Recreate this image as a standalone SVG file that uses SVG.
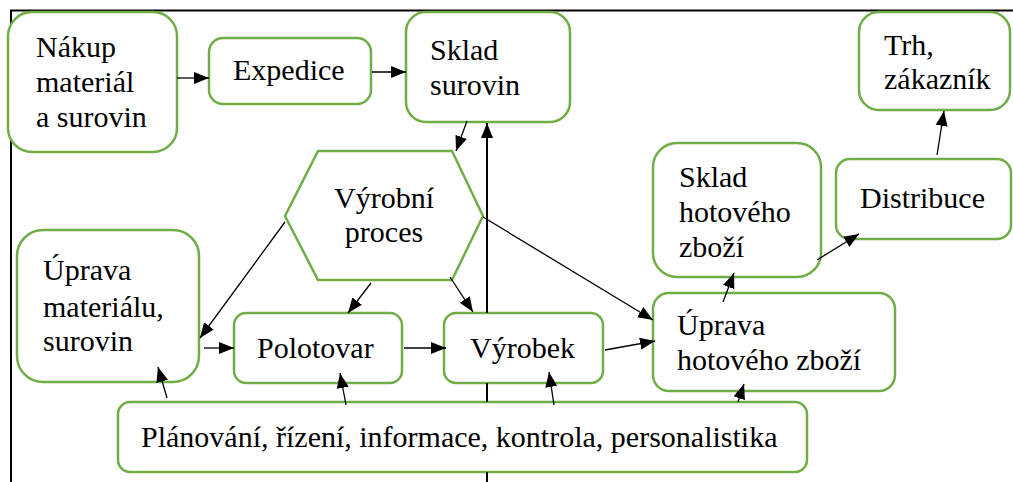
<svg xmlns="http://www.w3.org/2000/svg" width="1013" height="482" viewBox="0 0 1013 482">
  <style>
    .box { fill: #ffffff; stroke: #70ad47; stroke-width: 2.5; }
    .frame { stroke: #000000; stroke-width: 2; fill: none; }
    .conn { stroke: #000000; stroke-width: 1.3; fill: none; marker-end: url(#arrow); }
    .conn-thick { stroke: #000000; stroke-width: 2; fill: none; marker-end: url(#arrow); }
    .lbl { font-family: 'Liberation Serif', 'Times New Roman', Times, serif; font-size: 30px; fill: #000000; }
  </style>
  <defs>
    <marker id="arrow" markerUnits="userSpaceOnUse" markerWidth="16" markerHeight="14" refX="15" refY="6.5" orient="auto">
      <path d="M0,0.5 L15,6.5 L0,12.5 z" fill="#000000"/>
    </marker>
  </defs>
  <rect width="1013" height="482" fill="#ffffff"/>

  <!-- page frame lines -->
  <g id="frame">
    <line class="frame" x1="10" y1="10.5" x2="1013" y2="10.5"/>
    <line class="frame" x1="11" y1="10" x2="11" y2="482"/>
  </g>

  <!-- nodes -->
  <g id="n-nakup">
    <rect class="box" x="8" y="12" width="169" height="140" rx="24"/>
    <text class="lbl" x="36" y="57">Nákup</text>
    <text class="lbl" x="36" y="92">materiál</text>
    <text class="lbl" x="36" y="127">a surovin</text>
  </g>
  <g id="n-expedice">
    <rect class="box" x="209" y="38" width="162" height="66" rx="14"/>
    <text class="lbl" x="233" y="80">Expedice</text>
  </g>
  <g id="n-sklad-surovin">
    <rect class="box" x="406" y="12" width="164" height="110" rx="20"/>
    <text class="lbl" x="430" y="60">Sklad</text>
    <text class="lbl" x="430" y="95">surovin</text>
  </g>
  <g id="n-trh">
    <rect class="box" x="859" y="12" width="151" height="98" rx="20"/>
    <text class="lbl" x="884" y="55">Trh,</text>
    <text class="lbl" x="884" y="89">zákazník</text>
  </g>
  <g id="n-vyrobni-proces">
    <polygon class="box" points="285,216 318,151 452,151 483,216 452,280 318,280"/>
    <text class="lbl" x="384" y="208" text-anchor="middle">Výrobní</text>
    <text class="lbl" x="384" y="242" text-anchor="middle">proces</text>
  </g>
  <g id="n-uprava-materialu">
    <rect class="box" x="17" y="230" width="182" height="152" rx="26"/>
    <text class="lbl" x="43" y="280">Úprava</text>
    <text class="lbl" x="43" y="317">materiálu,</text>
    <text class="lbl" x="43" y="351">surovin</text>
  </g>
  <g id="n-polotovar">
    <rect class="box" x="234" y="313" width="168" height="70" rx="12"/>
    <text class="lbl" x="257" y="358">Polotovar</text>
  </g>
  <g id="n-vyrobek">
    <rect class="box" x="444" y="313" width="159" height="70" rx="12"/>
    <text class="lbl" x="470" y="358">Výrobek</text>
  </g>
  <g id="n-sklad-hotoveho">
    <rect class="box" x="653" y="143" width="168" height="134" rx="24"/>
    <text class="lbl" x="679" y="187">Sklad</text>
    <text class="lbl" x="679" y="222">hotového</text>
    <text class="lbl" x="679" y="257">zboží</text>
  </g>
  <g id="n-distribuce">
    <rect class="box" x="836" y="159" width="175" height="80" rx="14"/>
    <text class="lbl" x="860" y="208">Distribuce</text>
  </g>
  <g id="n-uprava-hotoveho">
    <rect class="box" x="653" y="293" width="242" height="98" rx="16"/>
    <text class="lbl" x="677" y="335">Úprava</text>
    <text class="lbl" x="677" y="370">hotového zboží</text>
  </g>
  <g id="n-planovani">
    <rect class="box" x="118" y="402" width="689" height="70" rx="12"/>
    <text class="lbl" x="141" y="447">Plánování, řízení, informace, kontrola, personalistika</text>
  </g>

  <!-- connectors -->
  <g id="connectors">
    <path class="conn" d="M177,78 L209,78"/>
    <path class="conn" d="M372,72 L406,72"/>
    <path class="conn" d="M467,121 L456,151"/>
    <path class="conn-thick" d="M487,482 V472 M487,402 V383 M487,313 V123"/>
    <path class="conn" d="M285,222 L200,338"/>
    <path class="conn" d="M371,283 L348,313"/>
    <path class="conn" d="M450,277 L473,312"/>
    <path class="conn" d="M483,217 L653,320"/>
    <path class="conn" d="M204,348 L234,348"/>
    <path class="conn" d="M404,348 L446,348"/>
    <path class="conn" d="M605,350 L655,341"/>
    <path class="conn" d="M723,302 L734,273"/>
    <path class="conn" d="M817,260 L859,234"/>
    <path class="conn" d="M937,155 L944,111"/>
    <path class="conn" d="M167,398 L158,367"/>
    <path class="conn" d="M346,405 L340,373"/>
    <path class="conn" d="M554,405 L549,372"/>
    <path class="conn" d="M738,402 L744,384"/>
  </g>
</svg>
